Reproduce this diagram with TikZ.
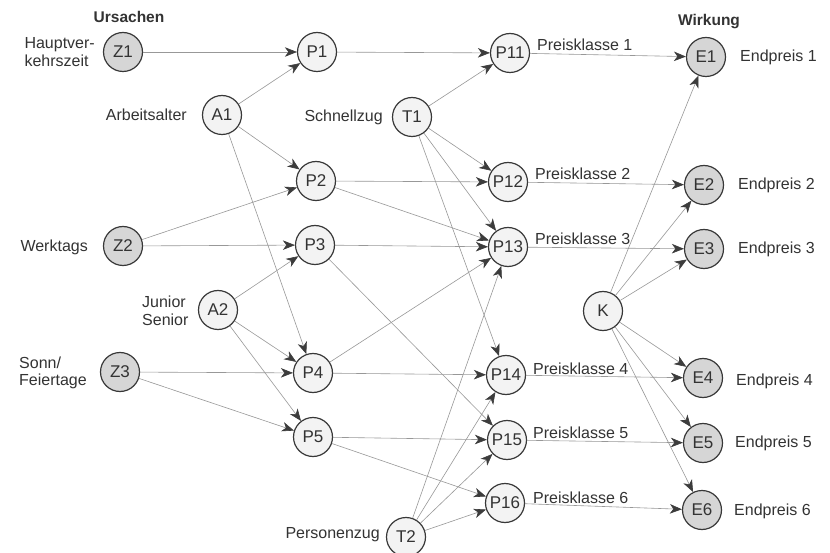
\documentclass[tikz,border=0pt]{standalone}
\usepackage{fontspec}
\setmainfont{Liberation Sans}
\usetikzlibrary{arrows.meta}
\definecolor{txt}{HTML}{333333}
\definecolor{ring}{HTML}{383838}
\definecolor{darkfill}{HTML}{D6D6D6}
\definecolor{lightfill}{HTML}{F3F3F3}
\definecolor{edgecol}{HTML}{989898}
\definecolor{tipcol}{HTML}{3C3C3C}
\begin{document}
\begin{tikzpicture}[x=1pt,y=-1pt,
  every node/.style={text=txt,font=\fontsize{16}{17.5}\selectfont},
  cnode/.style={circle,draw=ring,line width=1.2pt,minimum size=39pt,inner sep=0pt,
     font=\fontsize{17}{18}\selectfont},
  cause/.style={cnode,fill=darkfill},
  mid/.style={cnode,fill=lightfill},
  lab/.style={inner sep=0pt,align=left},
  conn/.style={draw=edgecol,line width=0.6pt,
     -{Stealth[length=12pt,width=9.5pt,inset=3.5pt,color=tipcol,fill=tipcol]}}]
\useasboundingbox (0,0) rectangle (830,553);
\fill[white] (0,0) rectangle (830,553);

% nodes
\node[cause] (Z1) at (123,52) {Z1};
\node[cause] (Z2) at (123,246) {Z2};
\node[cause] (Z3) at (120,372) {Z3};
\node[mid] (A1) at (222,115) {A1};
\node[mid] (A2) at (218,310) {A2};
\node[mid] (P1) at (317,52) {P1};
\node[mid] (P2) at (316,181) {P2};
\node[mid] (P3) at (315,245) {P3};
\node[mid] (P4) at (313,373) {P4};
\node[mid] (P5) at (313,437) {P5};
\node[mid] (T1) at (412,117) {T1};
\node[mid] (T2) at (406,537) {T2};
\node[mid] (P11) at (510,53) {P11};
\node[mid] (P12) at (508,182) {P12};
\node[mid] (P13) at (508,247) {P13};
\node[mid] (P14) at (506,375) {P14};
\node[mid] (P15) at (507,440) {P15};
\node[mid] (P16) at (505,503) {P16};
\node[mid] (K) at (603,311) {K};
\node[cause] (E1) at (706,57) {E1};
\node[cause] (E2) at (704,185) {E2};
\node[cause] (E3) at (704,249) {E3};
\node[cause] (E4) at (703,378) {E4};
\node[cause] (E5) at (703,443) {E5};
\node[cause] (E6) at (702,510) {E6};

% labels
\node[lab,font=\fontsize{15.5}{17}\selectfont\bfseries] (urs) at (129,17) {Ursachen};
\node[lab,font=\fontsize{15.5}{17}\selectfont\bfseries] (wir) at (709,22) {Wirkung};
\node[lab,anchor=east,align=left] (lZ1) at (95,52) {Hauptver-\\kehrszeit};
\node[lab,anchor=east] (lA1) at (187,115) {Arbeitsalter};
\node[lab,anchor=east] (lZ2) at (88,247) {Werktags};
\node[lab,anchor=west,align=left] (lA2) at (142,311) {Junior\\Senior};
\node[lab,anchor=west,align=left] (lZ3) at (19,373) {Sonn/\\Feiertage};
\node[lab,anchor=east] (lT1) at (383,117) {Schnellzug};
\node[lab,anchor=east] (lT2) at (380,535) {Personenzug};
\node[lab,anchor=base west] (k1) at (537,51) {Preisklasse 1};
\node[lab,anchor=base west] (k2) at (535,180) {Preisklasse 2};
\node[lab,anchor=base west] (k3) at (535,245) {Preisklasse 3};
\node[lab,anchor=base west] (k4) at (533,374) {Preisklasse 4};
\node[lab,anchor=base west] (k5) at (533,438) {Preisklasse 5};
\node[lab,anchor=base west] (k6) at (533,503) {Preisklasse 6};
\node[lab,anchor=west] (e1) at (740,57) {Endpreis 1};
\node[lab,anchor=west] (e2) at (738,185) {Endpreis 2};
\node[lab,anchor=west] (e3) at (738,249) {Endpreis 3};
\node[lab,anchor=west] (e4) at (736,381) {Endpreis 4};
\node[lab,anchor=west] (e5) at (735,443) {Endpreis 5};
\node[lab,anchor=west] (e6) at (734,511) {Endpreis 6};

% connectors
\foreach \a/\b in {Z1/P1,A1/P1,A1/P2,A1/P4,Z2/P2,Z2/P3,A2/P3,A2/P4,A2/P5,Z3/P4,Z3/P5,
  P1/P11,T1/P11,T1/P12,T1/P13,T1/P14,P2/P12,P2/P13,P3/P13,P3/P15,P4/P13,P4/P14,
  P5/P15,P5/P16,T2/P13,T2/P14,T2/P15,T2/P16,
  P11/E1,P12/E2,P13/E3,P14/E4,P15/E5,P16/E6,
  K/E1,K/E2,K/E3,K/E4,K/E5,K/E6}
  \draw[conn] (\a) -- (\b);
\end{tikzpicture}
\end{document}
